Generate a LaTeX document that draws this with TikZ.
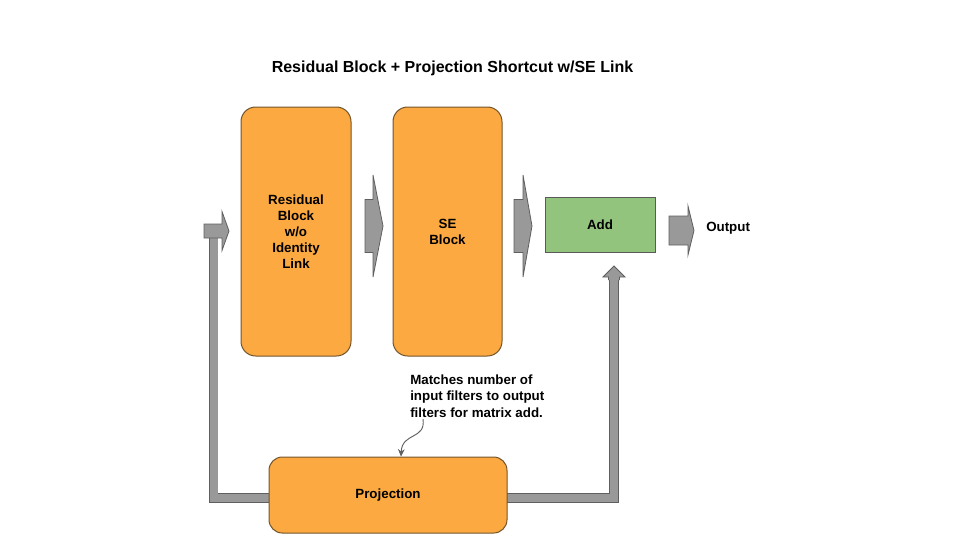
\documentclass[tikz,border=0pt]{standalone}
\usepackage{fontspec}
\setmainfont{Liberation Sans}
\usetikzlibrary{positioning,arrows.meta}

\definecolor{blockorange}{RGB}{251,169,64}
\definecolor{blockedge}{RGB}{115,85,45}
\definecolor{addgreen}{RGB}{147,196,125}
\definecolor{addedge}{RGB}{90,90,90}
\definecolor{arrowgray}{RGB}{153,153,153}
\definecolor{arrowedge}{RGB}{95,95,95}

\tikzset{
  block/.style={draw=blockedge, fill=blockorange, line width=0.75pt, rounded corners=11pt,
    align=center, font=\fontsize{10}{12}\selectfont\bfseries, inner sep=0pt},
  addbox/.style={draw=addedge, fill=addgreen, line width=0.75pt,
    font=\fontsize{10}{12}\selectfont\bfseries, inner sep=0pt},
  bararrow/.style={draw=arrowedge, fill=arrowgray, line width=0.6pt, line join=miter},
  shortcut/.style={draw=arrowedge, line width=0.6pt, double=arrowgray, double distance=6pt},
  label/.style={font=\fontsize{10}{12.5}\selectfont\bfseries, inner sep=0pt},
}

% block arrow pointing right: left x, head start x, tip x, mid y, half body, half head
\newcommand{\blockarrow}[6]{%
  \draw[bararrow] (#1,#4-#5) -- (#2,#4-#5) -- (#2,#4-#6) -- (#3,#4)
    -- (#2,#4+#6) -- (#2,#4+#5) -- (#1,#4+#5) -- cycle;}

\begin{document}
\begin{tikzpicture}[x=0.75pt, y=-0.75pt]
\useasboundingbox (0,0) rectangle (960,540);

\node[font=\fontsize{12}{14}\selectfont\bfseries] (title) at (452.5,68) {Residual Block + Projection Shortcut w/SE Link};

% main path
\node[block, minimum width=82.5pt, minimum height=186.75pt] (res) at (296,231.5) {Residual\\Block\\w/o\\Identity\\Link};
\node[block, minimum width=81.75pt, minimum height=186.75pt] (se) at (447.5,231.5) {SE\\Block};
\node[addbox, minimum width=82.5pt, minimum height=41.25pt] (add) at (600,224.5) {Add};
\node[label, anchor=west] (out) at (706,228.5) {Output};

% projection shortcut
\coordinate (in) at (213.5,238);
\coordinate (split) at (213.5,498);
\coordinate (merge) at (614,498);
\coordinate (sum) at (614,278);
\draw[shortcut] (in) -- (split) -- (merge) -- (sum);
\node[block, rounded corners=10pt, minimum width=178.5pt, minimum height=57pt] (proj) at (388,495) {\raisebox{-1.5pt}{Projection}};

\blockarrow{204}{222}{229}{231}{7}{19.5}
\blockarrow{365}{373}{383}{226}{26.5}{51}
\blockarrow{514}{523}{532}{226}{26.5}{51}
\blockarrow{669}{688}{694}{230.5}{14.5}{24.5}
\filldraw[bararrow] (608.5,280) -- (608.5,277) -- (603,277) -- (614,266) -- (625,277) -- (619.5,277) -- (619.5,280);

% note
\node[label, align=left, anchor=west] (note) at (410,396) {Matches number of\\input filters to output\\filters for matrix add.};
\coordinate (notefoot) at (423,419);
\draw[arrowedge, line width=0.7pt, -{Stealth[length=5.5pt,width=5pt]}] (notefoot) .. controls (426,440) and (402,432) .. ([xshift=9.75pt]proj.north);
\end{tikzpicture}
\end{document}
